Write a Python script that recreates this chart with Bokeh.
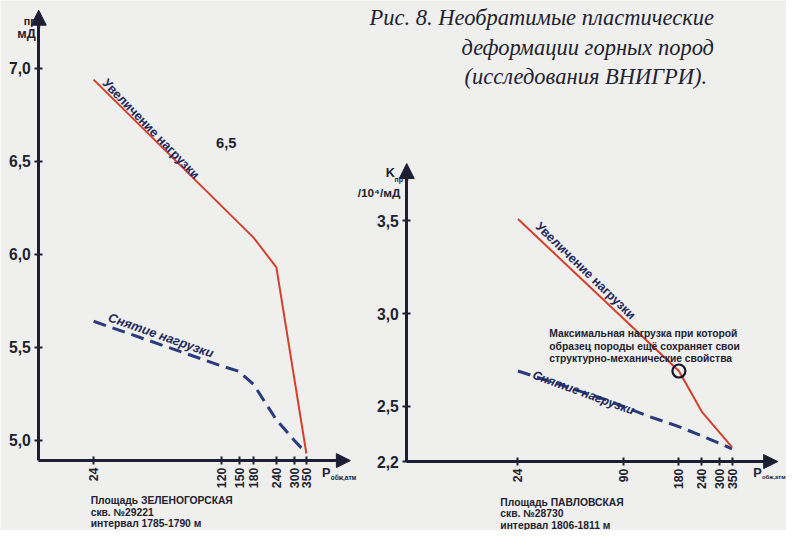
import math
from bokeh.plotting import figure
from bokeh.models import (Range1d, LogScale, LinearAxis, FixedTicker,
                          CustomJSTickFormatter, Arrow, NormalHead, Label)
from bokeh.embed import file_html
from bokeh.resources import INLINE

# ---------------- data ----------------
title_lines = ["Рис. 8. Необратимые пластические",
               "деформации горных пород",
               "(исследования ВНИГРИ)."]

# Chart 1 - Зеленогорская
p_ticks_1 = [24, 120, 150, 180, 240, 300, 350]
k_ticks_1 = [5.0, 5.5, 6.0, 6.5, 7.0]
load_p_1 = [24, 180, 240, 350]
load_k_1 = [6.94, 6.09, 5.93, 4.93]
unload_p_1 = [24, 120, 150, 180, 240, 300, 350]
unload_k_1 = [5.64, 5.40, 5.37, 5.30, 5.11, 5.00, 4.93]
mark_1 = "6,5"
info_1 = ["Площадь ЗЕЛЕНОГОРСКАЯ", "скв. №29221", "интервал 1785-1790 м"]

# Chart 2 - Павловская
p_ticks_2 = [24, 90, 180, 240, 300, 350]
k_ticks_2 = [2.2, 2.5, 3.0, 3.5]
load_p_2 = [24, 180, 240, 350]
load_k_2 = [3.51, 2.69, 2.47, 2.28]
unload_p_2 = [24, 70, 120, 180, 240, 300, 350]
unload_k_2 = [2.69, 2.54, 2.45, 2.39, 2.34, 2.30, 2.27]
limit_p_2 = [180]
limit_k_2 = [2.69]
info_2 = ["Площадь ПАВЛОВСКАЯ", "скв. №28730", "интервал 1806-1811 м"]
note_2 = ["Максимальная нагрузка при которой",
          "образец породы ещё сохраняет свои",
          "структурно-механические свойства"]

load_txt = "Увеличение нагрузки"
unload_txt = "Снятие нагрузки"

# ---------------- layout ----------------
W, H = 786, 530               # figure size (fits the window with 8px margin)
X0, X1 = 0, 802               # reference-picture coordinates shown by the frame
Y0, Y1 = 0, 546
FS = W / X1                   # font scale


def fs(n):
    return "%.1fpx" % (n * FS)


BG = "#efefed"
AX = "#1c1f33"
TXT = "#222230"
NAVY = "#1f2a5c"
RED = "#d6402b"
BLUE = "#2a3b7d"
SANS = "Liberation Sans"
SERIF = "Liberation Serif"

# pixel geometry of each chart in reference coordinates
G1 = dict(px=95, pv=24, kx=81.0, py=70, yv=7.0, ky=191.5)
G2 = dict(px=528, pv=24, kx=81.5, py=227, yv=3.5, ky=191.0)


def xval(g, px):
    return g["pv"] * math.exp((px - g["px"]) / g["kx"])


def yval(g, py):
    return g["yv"] - (py - g["py"]) / g["ky"]


p = figure(width=W, height=H, x_range=Range1d(X0, X1), y_range=Range1d(Y1, Y0),
           x_axis_type=None, y_axis_type=None, output_backend="svg",
           toolbar_location=None, min_border=0, title=None,
           background_fill_color=BG, border_fill_color=BG, outline_line_color=None)

p.extra_x_scales = {"x1": LogScale(), "x2": LogScale()}
p.extra_x_ranges = {"x1": Range1d(xval(G1, X0), xval(G1, X1)),
                    "x2": Range1d(xval(G2, X0), xval(G2, X1))}
p.extra_y_ranges = {"y1": Range1d(yval(G1, Y1), yval(G1, Y0)),
                    "y2": Range1d(yval(G2, Y1), yval(G2, Y0))}

yfmt = CustomJSTickFormatter(code="return tick.toFixed(1).replace('.', ',')")


def axes(g, n, ax_px, ax_py, tip_x, tip_y, xticks, yticks):
    xr, yr = "x" + n, "y" + n
    xa = LinearAxis(x_range_name=xr, y_range_name=yr,
                    fixed_location=yval(g, ax_py),
                    ticker=FixedTicker(ticks=xticks, minor_ticks=[]),
                    bounds=(xval(g, ax_px), xval(g, tip_x - 8)),
                    major_label_orientation=math.pi / 2,
                    axis_line_color=AX, axis_line_width=3,
                    major_tick_line_color=AX, major_tick_line_width=2,
                    major_tick_in=4, major_tick_out=4, minor_tick_line_color=None,
                    major_label_standoff=3,
                    major_label_text_font=SANS, major_label_text_font_style="bold",
                    major_label_text_font_size=fs(12.5), major_label_text_color=TXT)
    p.add_layout(xa, "below")
    ya = LinearAxis(x_range_name=xr, y_range_name=yr,
                    fixed_location=xval(g, ax_px),
                    ticker=FixedTicker(ticks=yticks, minor_ticks=[]),
                    formatter=yfmt,
                    bounds=(yval(g, ax_py), yval(g, tip_y + 8)),
                    axis_line_color=AX, axis_line_width=3,
                    major_tick_line_color=AX, major_tick_line_width=2,
                    major_tick_in=4, major_tick_out=4, minor_tick_line_color=None,
                    major_label_standoff=4,
                    major_label_text_font=SANS, major_label_text_font_style="bold",
                    major_label_text_font_size=fs(16), major_label_text_color=TXT)
    p.add_layout(ya, "left")
    p.add_layout(Arrow(end=NormalHead(size=14, fill_color=AX, line_color=AX, line_width=1),
                       x_start=xval(g, tip_x - 16), y_start=yval(g, ax_py),
                       x_end=xval(g, tip_x), y_end=yval(g, ax_py),
                       x_range_name=xr, y_range_name=yr, line_color=AX, line_width=3))
    p.add_layout(Arrow(end=NormalHead(size=15, fill_color=AX, line_color=AX, line_width=1),
                       x_start=xval(g, ax_px), y_start=yval(g, tip_y + 18),
                       x_end=xval(g, ax_px), y_end=yval(g, tip_y),
                       x_range_name=xr, y_range_name=yr, line_color=AX, line_width=3))


axes(G1, "1", 39, 474, 357, 10, p_ticks_1, k_ticks_1)
axes(G2, "2", 414.5, 475, 793, 168, p_ticks_2, k_ticks_2)

# curves
p.line(unload_p_1, unload_k_1, x_range_name="x1", y_range_name="y1",
       line_color=BLUE, line_width=3, line_dash="13 7")
p.line(load_p_1, load_k_1, x_range_name="x1", y_range_name="y1",
       line_color=RED, line_width=2)
p.line(unload_p_2, unload_k_2, x_range_name="x2", y_range_name="y2",
       line_color=BLUE, line_width=3, line_dash="13 7")
p.line(load_p_2, load_k_2, x_range_name="x2", y_range_name="y2",
       line_color=RED, line_width=2)
p.scatter(limit_p_2, limit_k_2, x_range_name="x2", y_range_name="y2",
          marker="circle", size=13, fill_color=None, line_color="#15152a", line_width=2.2)


def lab(x, y, t, size, style="bold", font=SANS, align="left", base="middle",
        angle=0.0, color=TXT):
    p.add_layout(Label(x=x, y=y, text=t, text_font=font, text_font_size=fs(size),
                       text_font_style=style, text_align=align, text_baseline=base,
                       angle=angle, text_color=color))


# title
lab(728, 18, title_lines[0], 23, "italic", SERIF, "right")
lab(728, 48, title_lines[1], 23, "italic", SERIF, "right")
lab(721, 78, title_lines[2], 23, "italic", SERIF, "right")

# axis titles
lab(37, 21, "пр", 11, align="right")
lab(36, 35, "мД", 13, align="right")
lab(393, 178, "K", 13)
lab(402, 184, "пр", 7)
lab(408, 198, "/10\u2074/мД", 12, align="right")
lab(328, 487, "P", 13)
lab(337, 491, "обж,атм", 6.5)
lab(768, 487, "P", 13)
lab(777, 491, "обж,атм", 6)

# curve labels
lab(101, 88, load_txt, 13, angle=-math.radians(46), base="bottom", color=NAVY)
lab(108, 333, unload_txt, 13, "bold italic", angle=-math.radians(19.5),
    base="bottom", color=NAVY)
lab(543, 236, load_txt, 13, angle=-math.radians(44), base="bottom", color=NAVY)
lab(541, 392, unload_txt, 12.5, "bold italic", angle=-math.radians(20),
    base="bottom", color=NAVY)
lab(220, 147, mark_1, 15)

# notes
for i, t in enumerate(note_2):
    lab(560, 343 + 13 * i, t, 10.5)
for i, t in enumerate(info_1):
    lab(92, 515 + 12 * i, t, 10.5)
for i, t in enumerate(info_2):
    lab(510, 517 + 12 * i, t, 10.5)

open("out.html", "w").write(file_html(p, INLINE))
